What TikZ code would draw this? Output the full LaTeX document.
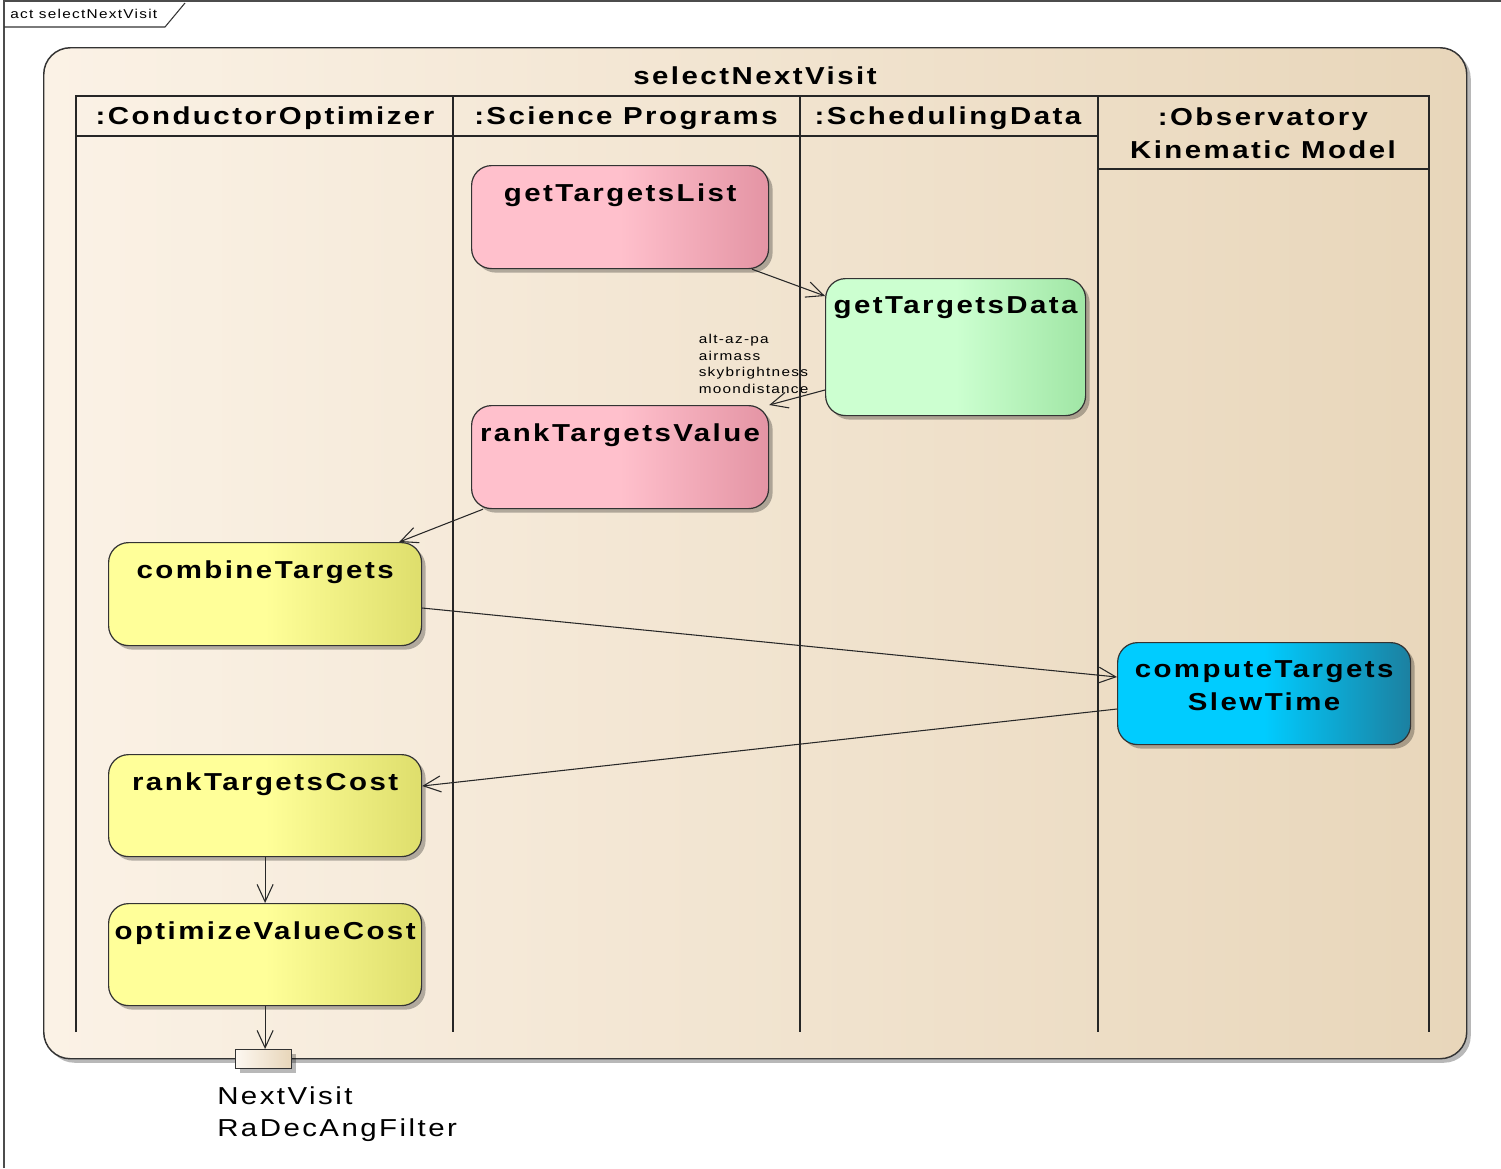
\documentclass[tikz,border=0pt]{standalone}
\usepackage{fontspec}
\setmainfont{Liberation Sans}[LetterSpace=10,FakeStretch=1.2]
\usetikzlibrary{arrows.meta,shadows,calc}

\definecolor{frameL}{RGB}{251,242,230}
\definecolor{frameR}{RGB}{232,214,186}
\definecolor{pinkL}{RGB}{255,192,204}
\definecolor{pinkR}{RGB}{228,148,164}
\definecolor{greenL}{RGB}{204,255,208}
\definecolor{greenR}{RGB}{160,230,165}
\definecolor{yellowL}{RGB}{255,255,153}
\definecolor{yellowR}{RGB}{222,222,108}
\definecolor{cyanL}{RGB}{0,204,255}
\definecolor{cyanR}{RGB}{28,128,160}
\definecolor{edge}{RGB}{40,40,40}

\begin{document}
\begin{tikzpicture}[x=0.75pt,y=-0.75pt,
  boldtxt/.style={font=\fontsize{18.4pt}{24.5pt}\bfseries\selectfont},
  plaintxt/.style={font=\fontsize{18.4pt}{24.5pt}\selectfont},
  smalltxt/.style={font=\fontsize{9.6pt}{12.4pt}\selectfont},
  softshadow/.style={drop shadow={shadow xshift=3pt,shadow yshift=-3pt,fill=black,opacity=0.28}},
  actbox/.style n args={3}{draw=black!80,line width=0.9pt,rounded corners=15pt,
     anchor=north west,inner sep=0pt,minimum width=#1,minimum height=#2,
     softshadow,left color=#3L,right color=#3R,middle color=#3L},
  acttitle/.style={boldtxt,anchor=north,inner sep=0pt,yshift=-13.9pt,align=center},
  flow/.style={draw=edge,line width=0.8pt,-{Straight Barb[length=13pt,width=12pt,line width=0.8pt]}},
  lane/.style={draw=black!85,line width=1.1pt}
]
\useasboundingbox (0,0) rectangle (1501,1168);
\fill[white] (0,0) rectangle (1501,1168);

% diagram frame and its name tab
\draw[black!70,line width=1.2pt] (4,1168) -- (4,1) -- (1501,1);
\draw[black!80,line width=0.8pt] (4,27) -- (165,27) -- (185,3);
\node[font=\fontsize{9.6pt}{12pt}\selectfont,anchor=west,inner sep=0pt] (tab) at (10,14) {act selectNextVisit};

% activity body
\node[draw=black!80,line width=1.1pt,rounded corners=20pt,anchor=north west,
  minimum width=1423pt*0.75,minimum height=1011pt*0.75,softshadow,
  left color=frameL,right color=frameR] (activity) at (43,47) {};
\node[boldtxt] (acttitle) at (755,75.5) {selectNextVisit};

% partitions
\draw[lane] (76,1032) -- (76,96) -- (1429,96) -- (1429,1032);
\draw[lane] (453,96) -- (453,1032);
\draw[lane] (800,96) -- (800,1032);
\draw[lane] (1098,96) -- (1098,1032);
\draw[lane] (76,136) -- (1098,136);
\draw[lane] (1098,169) -- (1429,169);
\node[boldtxt] (laneA) at (265,118) {:ConductorOptimizer};
\node[boldtxt] (laneB) at (626,118) {:Science Programs};
\node[boldtxt] (laneC) at (948,118) {:SchedulingData};
\node[boldtxt,align=center] (laneD) at (1263,133.5) {:Observatory\\Kinematic Model};

% actions
\node[actbox={297*0.75pt}{103*0.75pt}{pink},
  label={[acttitle]north:getTargetsList}] (gtl) at (471,165) {};
\node[actbox={260*0.75pt}{137*0.75pt}{green},
  label={[acttitle]north:getTargetsData}] (gtd) at (825,278) {};
\node[actbox={297*0.75pt}{103*0.75pt}{pink},
  label={[acttitle]north:rankTargetsValue}] (rtv) at (471,405) {};
\node[actbox={313*0.75pt}{103*0.75pt}{yellow},
  label={[acttitle]north:combineTargets}] (ct) at (108,542) {};
\node[actbox={293*0.75pt}{102*0.75pt}{cyan},
  label={[acttitle]north:computeTargets\\SlewTime}] (cst) at (1117,642) {};
\node[actbox={313*0.75pt}{102*0.75pt}{yellow},
  label={[acttitle]north:rankTargetsCost}] (rtc) at (108,754) {};
\node[actbox={313*0.75pt}{102*0.75pt}{yellow},
  label={[acttitle]north:optimizeValueCost}] (ovc) at (108,903) {};

% output pin
\node[draw=black!80,line width=0.9pt,anchor=north west,inner sep=0pt,
  minimum width=56*0.75pt,minimum height=19*0.75pt,softshadow,
  left color=frameL!60!white,right color=frameR] (pin) at (235,1049) {};
\node[plaintxt,align=left,anchor=north west,inner sep=0pt] (pinname) at (217,1086)
  {NextVisit\\RaDecAngFilter};

% control and object flows
\draw[flow] ($(gtl.south west)+(281,0)$) -- ($(gtd.north west)+(0,18)$);
\draw[flow] ($(gtd.north west)+(0,112)$) -- (rtv.north east)
  node[at start,smalltxt,anchor=south east,align=left,inner sep=0pt,xshift=-12pt,yshift=-3pt] (flowdata)
  {alt-az-pa\\airmass\\skybrightness\\moondistance};
\draw[flow] ($(rtv.south west)+(12,0)$) -- ($(ct.north east)+(-23,0)$);
\draw[flow] ($(ct.north east)+(0,66)$) -- ($(cst.north west)+(0,35)$);
\draw[flow] ($(cst.north west)+(0,67)$) -- ($(rtc.north east)+(0,32)$);
\draw[flow] (rtc.south) -- (ovc.south |- ovc.north);
\draw[flow] (ovc.south) -- (ovc.south |- pin.north);
\end{tikzpicture}
\end{document}
